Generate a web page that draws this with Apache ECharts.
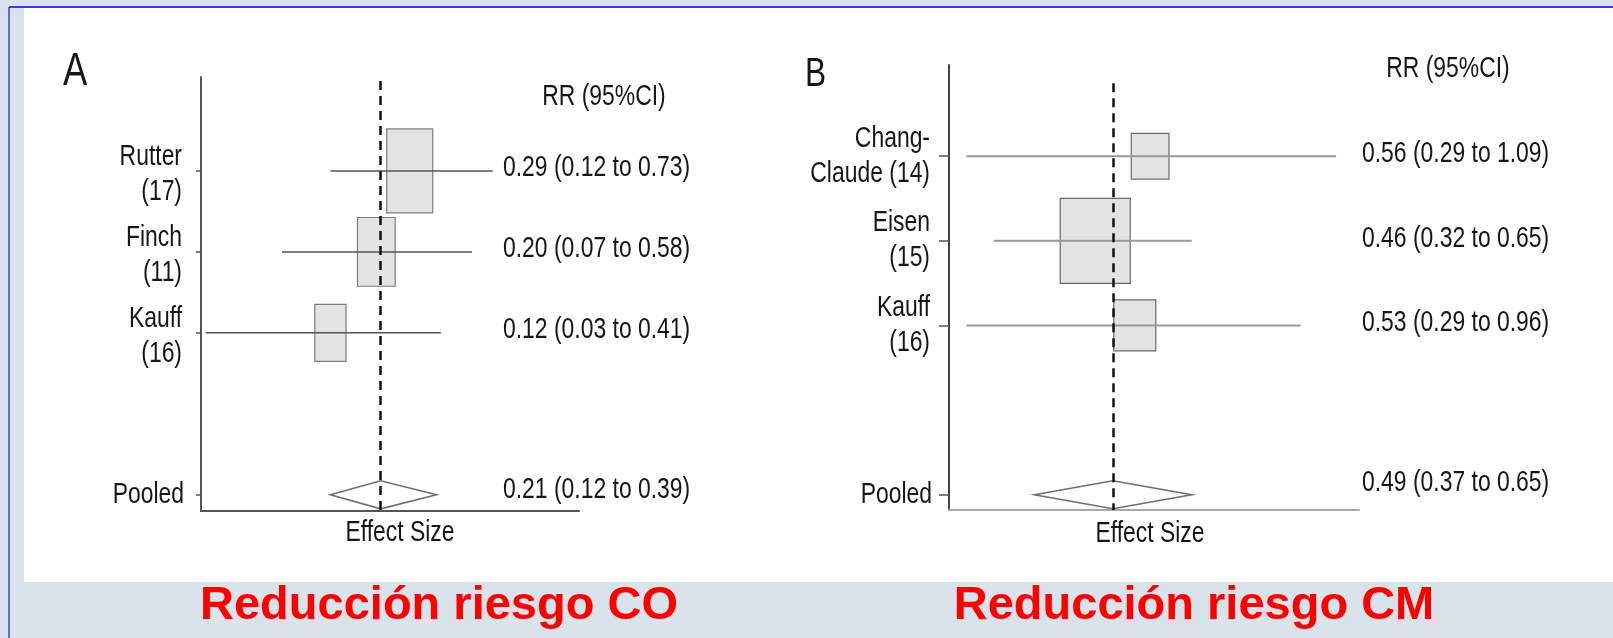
<!DOCTYPE html>
<html>
<head>
<meta charset="utf-8">
<title>Reducción riesgo CO / CM</title>
<script src="https://cdn.jsdelivr.net/npm/echarts@6/dist/echarts.min.js"></script>
<style>
  html, body { margin: 0; padding: 0; }
  #main { width: 1613px; height: 638px; }
</style>
</head>
<body>
<div id="main"></div>
<script>
// Panel A: colon cancer risk reduction
const studiesA = ['Rutter\n(17)', 'Finch\n(11)', 'Kauff\n(16)'];
const rrA = [0.29, 0.20, 0.12];
const lowA = [0.12, 0.07, 0.03];
const highA = [0.73, 0.58, 0.41];
const weightA = [1.0, 0.67, 0.46];
const pooledA = [0.21, 0.12, 0.39];

// Panel B: breast cancer risk reduction
const studiesB = ['Chang-\nClaude (14)', 'Eisen\n(15)', 'Kauff\n(16)'];
const rrB = [0.56, 0.46, 0.53];
const lowB = [0.29, 0.32, 0.29];
const highB = [1.09, 0.65, 0.96];
const weightB = [0.29, 1.0, 0.36];
const pooledB = [0.49, 0.37, 0.65];

const FONT = "'Liberation Sans', Arial, sans-serif";
const INK = '#161616';
const SQUEEZE = 0.79;

const fmt = (v) => v.toFixed(2);

function label(text, x, y, align, size) {
  return {
    type: 'text',
    x: x,
    y: y,
    scaleX: SQUEEZE,
    z: 10,
    style: {
      text: text,
      x: 0,
      y: 0,
      fontSize: size || 29,
      fontFamily: FONT,
      fill: INK,
      lineHeight: 35,
      align: align,
      textAlign: align,
      verticalAlign: 'middle',
      textVerticalAlign: 'middle'
    }
  };
}

const lookA = {
  boxW: 46, boxH: 84, boxStroke: '#7d7d7d',
  ciColor: '#555', ciWidth: 1.5,
  tickLen: 5, labelX: 503, valueDy: -3, pooledDy: -5, nameDy: 4,
  dashTop: -0.11, yMin: -0.16, yMax: 5.2
};
const lookB = {
  boxW: 70, boxH: 85, boxStroke: '#6a6a6a',
  ciColor: '#9a9a9a', ciWidth: 2,
  tickLen: 10, labelX: 1362, valueDy: -2, pooledDy: -12, nameDy: 0,
  dashTop: 0.14, yMin: -0.077, yMax: 5.18
};

function panelSeries(idx, names, rr, low, high, weight, pooled, look) {
  const studies = {
    type: 'custom',
    xAxisIndex: idx,
    yAxisIndex: idx,
    silent: true,
    data: names.map((_, i) => [rr[i], i + 1, low[i], high[i], weight[i]]),
    renderItem: function (params, api) {
      const row = api.value(1);
      const c = api.coord([api.value(0), row]);
      const lo = api.coord([api.value(2), row]);
      const hi = api.coord([api.value(3), row]);
      const s = Math.sqrt(api.value(4));
      const bw = look.boxW * s;
      const bh = look.boxH * s;
      const text = fmt(api.value(0)) + ' (' + fmt(api.value(2)) + ' to ' + fmt(api.value(3)) + ')';
      return {
        type: 'group',
        children: [
          {
            type: 'rect',
            shape: { x: c[0] - bw / 2, y: c[1] - bh / 2, width: bw, height: bh },
            style: { fill: '#e3e3e3', stroke: look.boxStroke, lineWidth: 1.2 }
          },
          {
            type: 'line',
            shape: { x1: lo[0], y1: c[1], x2: hi[0], y2: c[1] },
            style: { stroke: look.ciColor, lineWidth: look.ciWidth }
          },
          label(text, look.labelX, c[1] + look.valueDy, 'left'),
          label(names[params.dataIndex], params.coordSys.x - 19, c[1] + look.nameDy, 'right')
        ]
      };
    }
  };

  const pooledRow = names.length + 2;
  const summary = {
    type: 'custom',
    xAxisIndex: idx,
    yAxisIndex: idx,
    silent: true,
    data: [[pooled[0], pooledRow, pooled[1], pooled[2]]],
    renderItem: function (params, api) {
      const row = api.value(1);
      const c = api.coord([api.value(0), row]);
      const lo = api.coord([api.value(2), row]);
      const hi = api.coord([api.value(3), row]);
      const h = 14;
      const text = fmt(api.value(0)) + ' (' + fmt(api.value(2)) + ' to ' + fmt(api.value(3)) + ')';
      return {
        type: 'group',
        children: [
          {
            type: 'polygon',
            shape: { points: [[lo[0], c[1]], [c[0], c[1] - h], [hi[0], c[1]], [c[0], c[1] + h]] },
            style: { fill: '#fff', stroke: '#6f6f6f', lineWidth: 1.6 }
          },
          label(text, look.labelX, c[1] + look.pooledDy, 'left'),
          label('Pooled', params.coordSys.x - 17, c[1], 'right')
        ]
      };
    },
    markLine: {
      silent: true,
      symbol: ['none', 'none'],
      animation: false,
      label: { show: false },
      lineStyle: { color: '#111', width: 2.5, type: [9, 6] },
      data: [[{ coord: [pooled[0], look.dashTop] }, { coord: [pooled[0], look.yMax] }]]
    }
  };
  return [studies, summary];
}

function yAxisFor(idx, names, look, color) {
  const ticks = names.map((_, i) => i + 1).concat([names.length + 2]);
  return {
    type: 'value',
    gridIndex: idx,
    inverse: true,
    min: look.yMin,
    max: look.yMax,
    splitLine: { show: false },
    axisLabel: { show: false },
    axisLine: { show: true, onZero: false, lineStyle: { color: color, width: 2 } },
    axisTick: {
      show: true,
      inside: false,
      length: look.tickLen,
      customValues: ticks,
      lineStyle: { color: '#555', width: 1.5 }
    }
  };
}

function xAxisFor(idx, min, max, color) {
  return {
    type: 'log',
    gridIndex: idx,
    min: min,
    max: max,
    splitLine: { show: false },
    axisLabel: { show: false },
    axisTick: { show: false },
    axisLine: { show: true, onZero: false, lineStyle: { color: color, width: 2 } }
  };
}

const option = {
  animation: false,
  backgroundColor: '#dae2ea',
  grid: [
    { left: 201, top: 77, width: 378, height: 434 },
    { left: 949, top: 65, width: 410, height: 445 }
  ],
  xAxis: [
    xAxisFor(0, 0.02844, 1.906, '#555'),
    xAxisFor(1, 0.2725, 1.183, '#a8a8a8')
  ],
  yAxis: [
    yAxisFor(0, studiesA, lookA, '#555'),
    yAxisFor(1, studiesB, lookB, '#444')
  ],
  graphic: [
    { type: 'rect', z: -10, shape: { x: 24, y: 8, width: 1589, height: 574 }, style: { fill: '#fff' } },
    { type: 'line', z: -5, shape: { x1: 9, y1: 7, x2: 1613, y2: 7 }, style: { stroke: '#3a3fd6', lineWidth: 2 } },
    { type: 'line', z: -5, shape: { x1: 9, y1: 7, x2: 9, y2: 638 }, style: { stroke: '#3a3fd6', lineWidth: 1.5 } },
    label('A', 63, 72, 'left', 46),
    label('B', 805, 75, 'left', 40),
    label('RR (95%CI)', 604, 97, 'center'),
    label('RR (95%CI)', 1448, 69, 'center'),
    label('Effect Size', 400, 533, 'center'),
    label('Effect Size', 1150, 534, 'center'),
    {
      type: 'text', x: 439, y: 606, z: 10,
      style: {
        text: 'Reducción riesgo CO', x: 0, y: 0, fontSize: 47, fontWeight: 'bold', fontFamily: FONT,
        fill: '#ff0000', align: 'center', textAlign: 'center', verticalAlign: 'middle', textVerticalAlign: 'middle'
      }
    },
    {
      type: 'text', x: 1194, y: 606, z: 10,
      style: {
        text: 'Reducción riesgo CM', x: 0, y: 0, fontSize: 47, fontWeight: 'bold', fontFamily: FONT,
        fill: '#ff0000', align: 'center', textAlign: 'center', verticalAlign: 'middle', textVerticalAlign: 'middle'
      }
    }
  ],
  series: [
    ...panelSeries(0, studiesA, rrA, lowA, highA, weightA, pooledA, lookA),
    ...panelSeries(1, studiesB, rrB, lowB, highB, weightB, pooledB, lookB)
  ]
};

const chart = echarts.init(document.getElementById('main'));
chart.setOption(option);
window.addEventListener('resize', () => chart.resize());
</script>
</body>
</html>
